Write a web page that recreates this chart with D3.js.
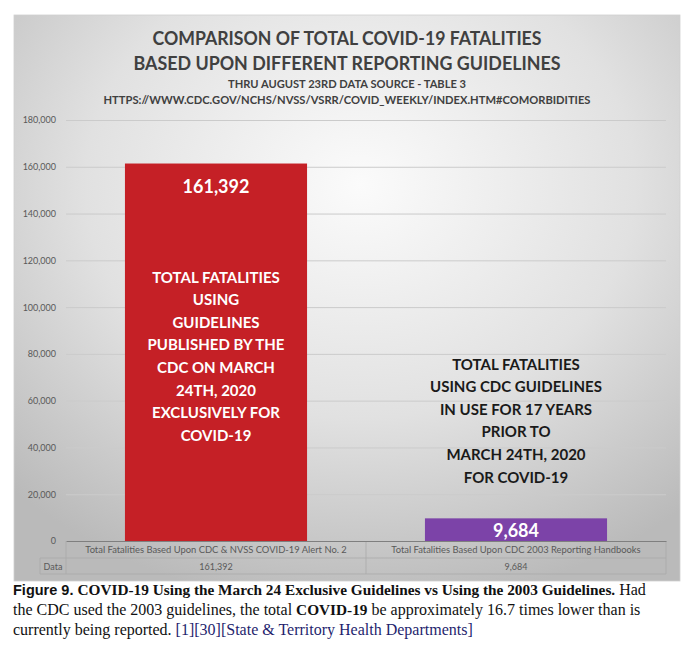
<!DOCTYPE html>
<html lang="en">
<head>
    <meta charset="UTF-8">
    <title>COVID-19 fatalities comparison</title>
    <script src="https://cdn.jsdelivr.net/npm/d3@7/dist/d3.min.js"></script>
    <style>
        body { margin: 0; background: #fff; }
    </style>
</head>
<body>
<script type="text/javascript">
    // data
    var categories = ["Total Fatalities Based Upon CDC & NVSS COVID-19 Alert No. 2",
                      "Total Fatalities Based Upon CDC 2003 Reporting Handbooks"];
    var values = [161392, 9684];
    var yTicks = [0, 20000, 40000, 60000, 80000, 100000, 120000, 140000, 160000, 180000];
    var barColors = ["#c52026", "#7c43a8"];
    var noteLeft = ["TOTAL FATALITIES", "USING", "GUIDELINES", "PUBLISHED BY THE",
                    "CDC ON MARCH", "24TH, 2020", "EXCLUSIVELY FOR", "COVID-19"];
    var noteRight = ["TOTAL FATALITIES", "USING CDC GUIDELINES", "IN USE FOR 17 YEARS",
                     "PRIOR TO", "MARCH 24TH, 2020", "FOR COVID-19"];
    var titleLines = ["COMPARISON OF TOTAL COVID-19 FATALITIES",
                      "BASED UPON DIFFERENT REPORTING GUIDELINES"];
    var subLines = ["THRU AUGUST 23RD DATA SOURCE - TABLE 3",
                    "HTTPS://WWW.CDC.GOV/NCHS/NVSS/VSRR/COVID_WEEKLY/INDEX.HTM#COMORBIDITIES"];

    var width = 699;
    var height = 654;
    var font = "Lato, 'Open Sans', sans-serif";
    var svg = d3.select('body').append('svg')
            .attr('width', width)
            .attr('height', height);

    var plot = {left: 66, right: 666, top: 120, bottom: 541};

    var xScale = d3.scaleBand()
            .domain(categories)
            .range([plot.left, plot.right])
            .paddingInner(0.393)
            .paddingOuter(0.1965);
    var yScale = d3.scaleLinear()
            .domain([0, 180000])
            .range([plot.bottom, plot.top]);
    var fmt = d3.format(",");

    // panel background
    var grad = svg.append("defs").append("radialGradient")
            .attr("id", "bg")
            .attr("cx", "52%").attr("cy", "30%").attr("r", "75%");
    grad.append("stop").attr("offset", "0%").attr("stop-color", "#fbfbfb");
    grad.append("stop").attr("offset", "55%").attr("stop-color", "#e1e1e1");
    grad.append("stop").attr("offset", "100%").attr("stop-color", "#bababa");

    svg.append("rect")
            .attr("x", 14).attr("y", 15)
            .attr("width", 666).attr("height", 566)
            .attr("fill", "url(#bg)")
            .attr("stroke", "#d0d0d0")
            .attr("stroke-width", 0.8);

    // titles
    var titleLen = [389, 427];
    svg.selectAll("text.title")
            .data(titleLines)
            .enter()
            .append("text")
            .attr("class", "title")
            .attr("x", 347)
            .attr("y", function (d, i) { return 45 + i * 25; })
            .attr("text-anchor", "middle")
            .attr("font-family", font)
            .attr("font-weight", "bold")
            .attr("font-size", "19px")
            .attr("fill", "#404040")
            .attr("textLength", function (d, i) { return titleLen[i]; })
            .attr("lengthAdjust", "spacingAndGlyphs")
            .text(function (d) { return d; });

    var subLen = [238, 487];
    svg.selectAll("text.sub")
            .data(subLines)
            .enter()
            .append("text")
            .attr("class", "sub")
            .attr("x", 347)
            .attr("y", function (d, i) { return 88 + i * 16; })
            .attr("text-anchor", "middle")
            .attr("font-family", font)
            .attr("font-weight", "bold")
            .attr("font-size", "10.5px")
            .attr("fill", "#404040")
            .attr("textLength", function (d, i) { return subLen[i]; })
            .attr("lengthAdjust", "spacingAndGlyphs")
            .text(function (d) { return d; });

    // y axis with gridlines
    var yAxis = d3.axisLeft(yScale)
            .tickValues(yTicks)
            .tickSize(-(plot.right - plot.left))
            .tickPadding(10)
            .tickFormat(fmt);
    var gy = svg.append("g")
            .attr("transform", "translate(" + plot.left + ",0)")
            .call(yAxis);
    gy.select(".domain").remove();
    gy.selectAll(".tick line").attr("stroke", "#cbcbcb").attr("stroke-width", 1);
    gy.selectAll(".tick text")
            .attr("fill", "#595959")
            .attr("font-family", font)
            .attr("font-size", "9px");

    // bars
    svg.selectAll("rect.bar")
            .data(values)
            .enter()
            .append("rect")
            .attr("class", "bar")
            .attr("x", function (d, i) { return xScale(categories[i]); })
            .attr("y", function (d) { return yScale(d); })
            .attr("width", xScale.bandwidth())
            .attr("height", function (d) { return yScale(0) - yScale(d); })
            .attr("fill", function (d, i) { return barColors[i]; });

    // value labels inside bar tops
    svg.selectAll("text.val")
            .data(values)
            .enter()
            .append("text")
            .attr("class", "val")
            .attr("x", function (d, i) { return xScale(categories[i]) + xScale.bandwidth() / 2; })
            .attr("y", function (d) { return yScale(d); })
            .attr("dy", function (d, i) { return i === 0 ? 29 : 18.5; })
            .attr("text-anchor", "middle")
            .attr("font-family", font)
            .attr("font-weight", "bold")
            .attr("font-size", "18px")
            .attr("fill", "#ffffff")
            .text(function (d) { return fmt(d); });

    // notes
    var cx0 = xScale(categories[0]) + xScale.bandwidth() / 2;
    var cx1 = xScale(categories[1]) + xScale.bandwidth() / 2;
    svg.selectAll("text.noteL")
            .data(noteLeft)
            .enter()
            .append("text")
            .attr("class", "noteL")
            .attr("x", cx0)
            .attr("y", function (d, i) { return 282.5 + i * 22.6; })
            .attr("text-anchor", "middle")
            .attr("font-family", font)
            .attr("font-weight", "bold")
            .attr("font-size", "15px")
            .attr("fill", "#ffffff")
            .text(function (d) { return d; });

    svg.selectAll("text.noteR")
            .data(noteRight)
            .enter()
            .append("text")
            .attr("class", "noteR")
            .attr("x", cx1)
            .attr("y", function (d, i) { return 369.5 + i * 22.6; })
            .attr("text-anchor", "middle")
            .attr("font-family", font)
            .attr("font-weight", "bold")
            .attr("font-size", "15px")
            .attr("fill", "#1a1a1a")
            .text(function (d) { return d; });

    // data table under the axis
    var rowTop = plot.bottom, rowMid = 558, rowBot = 574, dataLeft = 40;
    var step = xScale.step();
    var table = svg.append("g")
            .attr("fill", "none")
            .attr("stroke", "#a9a9a9")
            .attr("stroke-width", 0.8);
    table.append("path")
            .attr("d", "M" + plot.left + "," + rowTop + "V" + rowBot +
                    "M" + dataLeft + "," + rowMid + "V" + rowBot + "H" + plot.right + "V" + rowTop +
                    "M" + dataLeft + "," + rowMid + "H" + plot.right);
    categories.forEach(function (c, i) {
        if (i > 0) {
            table.append("line")
                    .attr("x1", plot.left + i * step).attr("x2", plot.left + i * step)
                    .attr("y1", rowTop).attr("y2", rowBot);
        }
    });

    var xAxis = d3.axisBottom(xScale)
            .tickSize(0)
            .tickSizeOuter(0)
            .tickPadding(5);
    var gx = svg.append("g")
            .attr("transform", "translate(0," + plot.bottom + ")")
            .call(xAxis);
    gx.select(".domain").attr("stroke", "#7f7f7f").attr("stroke-width", 1.2);
    gx.selectAll(".tick text")
            .attr("fill", "#595959")
            .attr("font-family", font)
            .attr("font-size", "9.4px");

    svg.selectAll("text.cell")
            .data(values)
            .enter()
            .append("text")
            .attr("class", "cell")
            .attr("x", function (d, i) { return xScale(categories[i]) + xScale.bandwidth() / 2; })
            .attr("y", rowMid + 12)
            .attr("text-anchor", "middle")
            .attr("font-family", font)
            .attr("font-size", "9px")
            .attr("fill", "#595959")
            .text(function (d) { return fmt(d); });
    svg.append("text")
            .attr("x", (dataLeft + plot.left) / 2)
            .attr("y", rowMid + 12)
            .attr("text-anchor", "middle")
            .attr("font-family", font)
            .attr("font-size", "9px")
            .attr("fill", "#595959")
            .text("Data");

    // figure caption
    var serif = "'Liberation Serif', 'Times New Roman', serif";
    var cap = svg.append("g")
            .attr("font-family", serif)
            .attr("font-size", "16px")
            .attr("fill", "#111");
    var l1 = cap.append("text").attr("x", 13).attr("y", 595);
    l1.append("tspan")
            .attr("font-family", "'Liberation Sans', Arial, sans-serif")
            .attr("font-weight", "bold")
            .attr("font-size", "14.5px")
            .text("Figure 9. ");
    l1.append("tspan")
            .attr("font-weight", "bold")
            .attr("font-size", "15.3px")
            .text("COVID-19 Using the March 24 Exclusive Guidelines vs Using the 2003 Guidelines.");
    l1.append("tspan").text(" Had");

    var l2 = cap.append("text").attr("x", 13).attr("y", 615);
    l2.append("tspan").text("the CDC used the 2003 guidelines, the total ");
    l2.append("tspan").attr("font-weight", "bold").attr("font-size", "15.3px").text("COVID-19");
    l2.append("tspan").text(" be approximately 16.7 times lower than is");

    var l3 = cap.append("text").attr("x", 13).attr("y", 635);
    l3.append("tspan").text("currently being reported. ");
    l3.append("tspan").attr("fill", "#1f1f6e").text("[1][30][State & Territory Health Departments]");
</script>
</body>
</html>
